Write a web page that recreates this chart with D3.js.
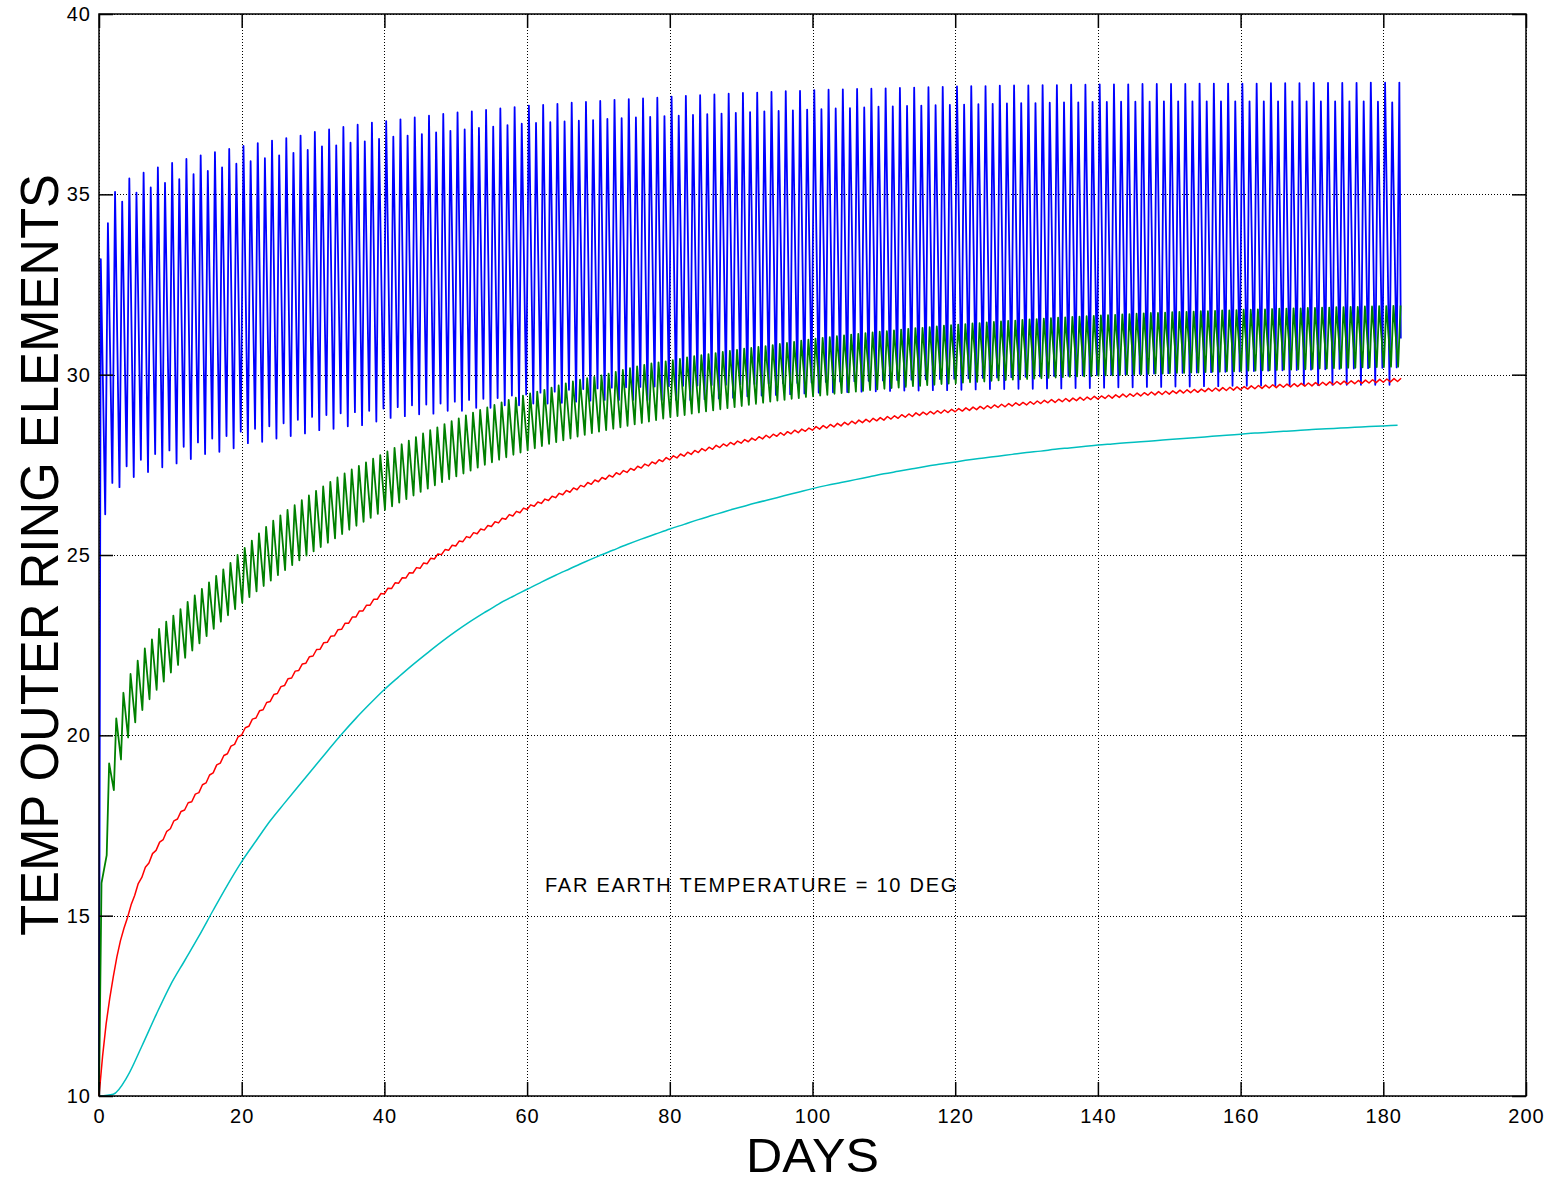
<!DOCTYPE html>
<html>
<head>
<meta charset="utf-8">
<title>Temp outer ring elements</title>
<style>
  body { margin: 0; background: #fff; }
  svg { display: block; background: #fff; font-family: "Liberation Sans", Arial, sans-serif; }
  .grid line { stroke: #000; stroke-width: 1; stroke-dasharray: 1,2; shape-rendering: crispEdges; }
  .grid path { display: none; }
  .axis path { display: none; }
  .axis line { stroke: #000; stroke-width: 1.5; }
  .axis text { font-size: 20px; letter-spacing: 1px; fill: #000; }
  .frame { fill: none; stroke: #000; stroke-width: 1.5; }
  .series { fill: none; stroke-linejoin: round; }
</style>
</head>
<body>
<div id="chart"></div>
<script src="https://d3js.org/d3.v7.min.js"></script>
<script>
// ticks
var xTicks = [0, 20, 40, 60, 80, 100, 120, 140, 160, 180, 200];
var yTicks = [10, 15, 20, 25, 30, 35, 40];

// blue: one spike per day, peak about day i+0.25, low about day i+0.87
var bluePeakAt = 0.25, blueLowAt = 0.87;
var bluePeak = [
  33.2, 34.2, 35.07, 34.8, 35.44, 35.05, 35.6, 35.19, 35.75, 35.32,
  35.87, 35.42, 35.98, 35.56, 36.08, 35.65, 36.17, 35.75, 36.26, 35.85,
  36.34, 35.92, 36.42, 36.0, 36.49, 36.08, 36.56, 36.15, 36.63, 36.23,
  36.73, 36.33, 36.8, 36.36, 36.87, 36.43, 36.93, 36.47, 36.99, 36.54,
  37.03, 36.6, 37.08, 36.63, 37.13, 36.67, 37.18, 36.72, 37.23, 36.76,
  37.27, 36.8, 37.3, 36.84, 37.34, 36.88, 37.38, 36.92, 37.42, 36.96,
  37.46, 36.98, 37.48, 37.0, 37.51, 37.02, 37.54, 37.04, 37.56, 37.06,
  37.59, 37.09, 37.62, 37.11, 37.64, 37.13, 37.66, 37.15, 37.68, 37.17,
  37.71, 37.18, 37.73, 37.2, 37.75, 37.22, 37.77, 37.24, 37.79, 37.26,
  37.81, 37.28, 37.82, 37.3, 37.84, 37.31, 37.86, 37.33, 37.87, 37.35,
  37.89, 37.36, 37.9, 37.38, 37.91, 37.39, 37.92, 37.41, 37.93, 37.43,
  37.94, 37.44, 37.95, 37.45, 37.96, 37.46, 37.97, 37.47, 37.98, 37.48,
  37.99, 37.49, 38.0, 37.5, 38.0, 37.51, 38.01, 37.52, 38.02, 37.53,
  38.02, 37.53, 38.03, 37.54, 38.03, 37.55, 38.04, 37.55, 38.04, 37.56,
  38.05, 37.56, 38.05, 37.57, 38.05, 37.57, 38.06, 37.57, 38.06, 37.58,
  38.06, 37.58, 38.06, 37.58, 38.07, 37.58, 38.07, 37.58, 38.07, 37.58,
  38.07, 37.58, 38.07, 37.58, 38.08, 37.58, 38.08, 37.58, 38.08, 37.58,
  38.09, 37.58, 38.09, 37.58, 38.09, 37.58, 38.09, 37.58, 38.1, 37.57,
  38.1, 37.55, 38.1
];
var blueLow = [
  26.13, 27.0, 26.88, 27.46, 27.16, 27.64, 27.3, 27.8, 27.43, 27.9,
  27.54, 28.0, 27.66, 28.12, 27.8, 28.23, 27.86, 28.3, 27.96, 28.42,
  28.1, 28.5, 28.14, 28.57, 28.23, 28.65, 28.3, 28.75, 28.37, 28.83,
  28.46, 28.88, 28.5, 28.93, 28.57, 28.96, 28.6, 29.0, 28.7, 29.06,
  28.8, 29.1, 28.85, 29.15, 28.9, 29.17, 28.92, 29.2, 29.0, 29.25,
  29.0, 29.3, 29.08, 29.33, 29.08, 29.35, 29.15, 29.42, 29.15, 29.45,
  29.2, 29.5, 29.2, 29.53, 29.22, 29.58, 29.25, 29.6, 29.28, 29.62,
  29.3, 29.64, 29.3, 29.65, 29.3, 29.66, 29.3, 29.67, 29.3, 29.68,
  29.3, 29.69, 29.3, 29.7, 29.32, 29.71, 29.34, 29.72, 29.36, 29.73,
  29.4, 29.74, 29.42, 29.75, 29.44, 29.76, 29.46, 29.77, 29.48, 29.78,
  29.5, 29.8, 29.51, 29.81, 29.52, 29.82, 29.53, 29.83, 29.54, 29.84,
  29.55, 29.85, 29.56, 29.86, 29.56, 29.87, 29.57, 29.88, 29.57, 29.89,
  29.58, 29.9, 29.59, 29.91, 29.6, 29.92, 29.6, 29.93, 29.61, 29.94,
  29.61, 29.95, 29.62, 29.96, 29.62, 29.97, 29.63, 29.98, 29.63, 29.99,
  29.64, 30.0, 29.65, 30.01, 29.65, 30.02, 29.66, 30.03, 29.66, 30.04,
  29.67, 30.05, 29.67, 30.06, 29.68, 30.07, 29.68, 30.08, 29.69, 30.09,
  29.69, 30.1, 29.7, 30.11, 29.7, 30.12, 29.71, 30.13, 29.71, 30.14,
  29.71, 30.15, 29.72, 30.16, 29.72, 30.17, 29.72, 30.18, 29.72, 30.19,
  29.72, 30.2
];
var blueStart = [0, 10];
var blueEnd = [182.45, 31.0];

// green: from day 1, low about day i+0.08, peak about day i+0.42
var greenLowAt = 0.08, greenPeakAt = 0.42;
var greenStart = [[0, 10], [0.35, 15.9]];
var greenLow = [
  16.68, 18.48, 19.33, 19.94, 20.36, 20.7, 21.0, 21.26, 21.49, 21.74,
  21.95, 22.15, 22.35, 22.55, 22.75, 22.95, 23.15, 23.33, 23.5, 23.67,
  23.83, 23.99, 24.14, 24.29, 24.44, 24.58, 24.72, 24.85, 24.98, 25.1,
  25.22, 25.34, 25.46, 25.58, 25.7, 25.81, 25.92, 26.03, 26.14, 26.25,
  26.35, 26.45, 26.55, 26.65, 26.75, 26.84, 26.93, 27.02, 27.1, 27.18,
  27.26, 27.34, 27.42, 27.5, 27.57, 27.64, 27.71, 27.78, 27.84, 27.9,
  27.96, 28.02, 28.08, 28.13, 28.18, 28.23, 28.28, 28.33, 28.38, 28.42,
  28.46, 28.5, 28.54, 28.58, 28.62, 28.66, 28.7, 28.74, 28.78, 28.82,
  28.85, 28.88, 28.92, 28.95, 28.98, 29.01, 29.04, 29.07, 29.1, 29.13,
  29.16, 29.19, 29.22, 29.25, 29.28, 29.3, 29.33, 29.35, 29.38, 29.4,
  29.42, 29.44, 29.47, 29.49, 29.51, 29.53, 29.55, 29.57, 29.59, 29.61,
  29.63, 29.64, 29.66, 29.68, 29.69, 29.71, 29.72, 29.74, 29.75, 29.76,
  29.78, 29.79, 29.8, 29.81, 29.83, 29.84, 29.85, 29.86, 29.87, 29.88,
  29.89, 29.9, 29.91, 29.92, 29.93, 29.94, 29.95, 29.95, 29.96, 29.97,
  29.98, 29.98, 29.99, 30.0, 30.01, 30.01, 30.02, 30.03, 30.03, 30.04,
  30.05, 30.05, 30.06, 30.06, 30.07, 30.08, 30.08, 30.09, 30.09, 30.1,
  30.11, 30.11, 30.12, 30.12, 30.13, 30.14, 30.14, 30.15, 30.15, 30.16,
  30.17, 30.17, 30.18, 30.18, 30.19, 30.19, 30.2, 30.2, 30.21, 30.21,
  30.22, 30.22
];
var greenPeak = [
  19.22, 20.47, 21.18, 21.7, 22.07, 22.41, 22.66, 22.95, 23.15, 23.32,
  23.5, 23.7, 23.88, 24.06, 24.24, 24.42, 24.6, 24.78, 25.0, 25.2,
  25.4, 25.6, 25.78, 25.95, 26.1, 26.25, 26.38, 26.52, 26.65, 26.78,
  26.9, 27.03, 27.15, 27.26, 27.37, 27.47, 27.57, 27.67, 27.77, 27.87,
  27.97, 28.07, 28.17, 28.27, 28.37, 28.46, 28.54, 28.63, 28.71, 28.79,
  28.87, 28.95, 29.02, 29.09, 29.16, 29.23, 29.3, 29.36, 29.42, 29.48,
  29.53, 29.58, 29.64, 29.7, 29.76, 29.81, 29.86, 29.9, 29.94, 29.98,
  30.03, 30.08, 30.13, 30.18, 30.23, 30.27, 30.31, 30.34, 30.37, 30.4,
  30.44, 30.48, 30.51, 30.54, 30.57, 30.6, 30.63, 30.66, 30.69, 30.72,
  30.74, 30.77, 30.79, 30.82, 30.85, 30.88, 30.91, 30.94, 30.97, 31.0,
  31.02, 31.04, 31.07, 31.09, 31.11, 31.13, 31.15, 31.17, 31.19, 31.21,
  31.23, 31.25, 31.27, 31.29, 31.3, 31.32, 31.34, 31.36, 31.37, 31.39,
  31.4, 31.42, 31.43, 31.45, 31.46, 31.48, 31.49, 31.5, 31.52, 31.53,
  31.54, 31.55, 31.57, 31.58, 31.59, 31.6, 31.61, 31.62, 31.63, 31.64,
  31.65, 31.66, 31.67, 31.68, 31.69, 31.7, 31.71, 31.71, 31.72, 31.73,
  31.74, 31.74, 31.75, 31.76, 31.76, 31.77, 31.78, 31.78, 31.79, 31.8,
  31.8, 31.81, 31.81, 31.82, 31.83, 31.83, 31.84, 31.84, 31.85, 31.85,
  31.86, 31.86, 31.87, 31.87, 31.88, 31.88, 31.89, 31.89, 31.9, 31.9,
  31.91, 31.92
];

// red: value at each whole day and at each half day (small daily ripple)
var redDay = [
  10.0, 12.0, 13.3, 14.3, 14.95, 15.56, 16.06, 16.46, 16.81, 17.11,
  17.41, 17.68, 17.93, 18.16, 18.41, 18.68, 18.96, 19.23, 19.49, 19.75,
  20.01, 20.25, 20.48, 20.71, 20.94, 21.16, 21.38, 21.59, 21.8, 22.0,
  22.2, 22.39, 22.58, 22.76, 22.94, 23.11, 23.28, 23.45, 23.61, 23.77,
  23.92, 24.07, 24.22, 24.36, 24.5, 24.63, 24.76, 24.89, 25.01, 25.13,
  25.25, 25.37, 25.48, 25.59, 25.69, 25.79, 25.89, 25.99, 26.08, 26.17,
  26.26, 26.35, 26.43, 26.51, 26.59, 26.67, 26.74, 26.81, 26.89, 26.96,
  27.03, 27.1, 27.16, 27.23, 27.29, 27.35, 27.41, 27.47, 27.53, 27.59,
  27.64, 27.69, 27.74, 27.79, 27.84, 27.89, 27.93, 27.98, 28.02, 28.06,
  28.1, 28.14, 28.18, 28.22, 28.25, 28.29, 28.32, 28.36, 28.39, 28.43,
  28.46, 28.49, 28.52, 28.55, 28.58, 28.61, 28.64, 28.67, 28.69, 28.72,
  28.74, 28.77, 28.79, 28.82, 28.84, 28.87, 28.89, 28.91, 28.93, 28.95,
  28.97, 28.99, 29.01, 29.03, 29.05, 29.07, 29.09, 29.11, 29.13, 29.15,
  29.16, 29.18, 29.2, 29.22, 29.23, 29.25, 29.26, 29.28, 29.29, 29.31,
  29.32, 29.34, 29.35, 29.37, 29.38, 29.4, 29.41, 29.43, 29.44, 29.45,
  29.46, 29.48, 29.49, 29.5, 29.51, 29.53, 29.54, 29.55, 29.56, 29.57,
  29.58, 29.6, 29.61, 29.62, 29.63, 29.64, 29.65, 29.66, 29.67, 29.68,
  29.69, 29.7, 29.71, 29.72, 29.73, 29.74, 29.75, 29.76, 29.77, 29.78,
  29.79, 29.8, 29.81
];
var redHalf = [
  11.1, 12.7, 13.85, 14.65, 15.3, 15.89, 16.34, 16.72, 17.04, 17.34,
  17.63, 17.89, 18.13, 18.37, 18.63, 18.9, 19.18, 19.44, 19.7, 19.96,
  20.21, 20.45, 20.68, 20.91, 21.13, 21.35, 21.57, 21.78, 21.98, 22.18,
  22.38, 22.57, 22.75, 22.93, 23.11, 23.28, 23.45, 23.61, 23.77, 23.93,
  24.08, 24.23, 24.37, 24.51, 24.65, 24.78, 24.91, 25.03, 25.15, 25.27,
  25.39, 25.51, 25.62, 25.72, 25.82, 25.92, 26.02, 26.12, 26.21, 26.3,
  26.39, 26.47, 26.55, 26.63, 26.71, 26.79, 26.86, 26.93, 27.01, 27.08,
  27.15, 27.21, 27.28, 27.34, 27.4, 27.46, 27.52, 27.58, 27.64, 27.7,
  27.75, 27.8, 27.85, 27.9, 27.95, 27.99, 28.04, 28.08, 28.12, 28.16,
  28.2, 28.24, 28.28, 28.32, 28.35, 28.39, 28.42, 28.46, 28.49, 28.52,
  28.56, 28.59, 28.62, 28.65, 28.68, 28.71, 28.74, 28.76, 28.79, 28.81,
  28.84, 28.86, 28.89, 28.91, 28.94, 28.96, 28.98, 29.0, 29.02, 29.04,
  29.06, 29.08, 29.1, 29.12, 29.14, 29.16, 29.18, 29.2, 29.22, 29.23,
  29.25, 29.27, 29.29, 29.31, 29.32, 29.34, 29.35, 29.37, 29.38, 29.4,
  29.41, 29.43, 29.44, 29.46, 29.47, 29.49, 29.5, 29.52, 29.53, 29.54,
  29.55, 29.57, 29.58, 29.59, 29.6, 29.62, 29.63, 29.64, 29.65, 29.66,
  29.67, 29.69, 29.7, 29.71, 29.72, 29.73, 29.74, 29.75, 29.76, 29.77,
  29.78, 29.79, 29.8, 29.81, 29.82, 29.83, 29.84, 29.85, 29.86, 29.87,
  29.88, 29.89, 29.9
];

// cyan: every second day from day 0 to day 182
var cyanStep = 2;
var cyanTemp = [
  10.0, 10.05, 10.55, 11.38, 12.25, 13.07, 13.75, 14.43, 15.15, 15.85,
  16.5, 17.07, 17.63, 18.12, 18.6, 19.08, 19.56, 20.03, 20.47, 20.88,
  21.27, 21.62, 21.96, 22.28, 22.59, 22.88, 23.15, 23.4, 23.64, 23.85,
  24.05, 24.25, 24.44, 24.62, 24.8, 24.97, 25.13, 25.29, 25.44, 25.58,
  25.72, 25.85, 25.98, 26.1, 26.22, 26.33, 26.44, 26.54, 26.64, 26.74,
  26.84, 26.93, 27.01, 27.09, 27.17, 27.25, 27.32, 27.39, 27.46, 27.52,
  27.58, 27.64, 27.69, 27.74, 27.79, 27.84, 27.88, 27.93, 27.97, 28.01,
  28.05, 28.08, 28.11, 28.14, 28.17, 28.2, 28.23, 28.26, 28.29, 28.32,
  28.35, 28.38, 28.4, 28.43, 28.45, 28.48, 28.5, 28.52, 28.54, 28.56,
  28.58, 28.6
];

var note = "FAR EARTH TEMPERATURE = 10 DEG";
var notePos = [62.5, 15.85];

// build point lists
var bluePts = [{day: blueStart[0], temp: blueStart[1]}];
bluePeak.forEach(function(v, i) {
  bluePts.push({day: i + bluePeakAt, temp: v});
  if (i < blueLow.length) bluePts.push({day: i + blueLowAt, temp: blueLow[i]});
});
bluePts.push({day: blueEnd[0], temp: blueEnd[1]});

var greenPts = greenStart.map(function(p) { return {day: p[0], temp: p[1]}; });
greenLow.forEach(function(v, i) {
  greenPts.push({day: i + 1 + greenLowAt, temp: v});
  greenPts.push({day: i + 1 + greenPeakAt, temp: greenPeak[i]});
});

var redPts = [];
redDay.forEach(function(v, i) {
  redPts.push({day: i, temp: v});
  redPts.push({day: i + 0.5, temp: redHalf[i]});
});

var cyanPts = cyanTemp.map(function(v, i) { return {day: i * cyanStep, temp: v}; });

var series = [
  {pts: bluePts, color: "#0000ff", w: 1.8, curve: d3.curveLinear},
  {pts: greenPts, color: "#008000", w: 1.8, curve: d3.curveLinear},
  {pts: redPts, color: "#ff0000", w: 1.5, curve: d3.curveLinear},
  {pts: cyanPts, color: "#00bfbf", w: 1.5, curve: d3.curveMonotoneX}
];

// layout
var margin = {top: 14, right: 31, bottom: 87, left: 99},
    width = 1557 - margin.left - margin.right,
    height = 1183 - margin.top - margin.bottom;

var svg = d3.select("#chart")
  .append("svg")
    .attr("width", 1557)
    .attr("height", 1183)
  .append("g")
    .attr("transform", "translate(" + margin.left + "," + margin.top + ")");

var x = d3.scaleLinear().domain([0, 200]).range([0, width]);
var y = d3.scaleLinear().domain([10, 40]).range([height, 0]);

// dotted grid
svg.append("g")
  .attr("class", "grid")
  .attr("transform", "translate(0," + height + ")")
  .call(d3.axisBottom(x).tickValues(xTicks).tickSize(-height).tickFormat(""));
svg.append("g")
  .attr("class", "grid")
  .call(d3.axisLeft(y).tickValues(yTicks).tickSize(-width).tickFormat(""));

// data lines
svg.selectAll(".series")
  .data(series)
  .enter()
  .append("path")
    .attr("class", "series")
    .attr("d", function(s) {
      return d3.line()
        .curve(s.curve)
        .x(function(d) { return x(d.day); })
        .y(function(d) { return y(d.temp); })(s.pts);
    })
    .attr("stroke", function(s) { return s.color; })
    .attr("stroke-width", function(s) { return s.w; });

// inward ticks on all four sides
svg.append("g")
  .attr("class", "axis")
  .attr("transform", "translate(0," + height + ")")
  .call(d3.axisBottom(x).tickValues(xTicks).tickSizeInner(-14).tickSizeOuter(0).tickPadding(13));
svg.append("g")
  .attr("class", "axis")
  .call(d3.axisTop(x).tickValues(xTicks).tickSizeInner(-14).tickSizeOuter(0).tickFormat(""));
svg.append("g")
  .attr("class", "axis")
  .call(d3.axisLeft(y).tickValues(yTicks).tickSizeInner(-14).tickSizeOuter(0).tickPadding(8));
svg.append("g")
  .attr("class", "axis")
  .attr("transform", "translate(" + width + ",0)")
  .call(d3.axisRight(y).tickValues(yTicks).tickSizeInner(-14).tickSizeOuter(0).tickFormat(""));

svg.append("rect")
  .attr("class", "frame")
  .attr("width", width)
  .attr("height", height);

// labels
svg.append("text")
  .attr("x", x(100))
  .attr("y", height + 76)
  .attr("text-anchor", "middle")
  .attr("textLength", 133)
  .attr("lengthAdjust", "spacingAndGlyphs")
  .style("font-size", "48px")
  .text("DAYS");

svg.append("text")
  .attr("transform", "translate(-41," + (height / 2) + ") rotate(-90)")
  .attr("text-anchor", "middle")
  .attr("textLength", 762)
  .attr("lengthAdjust", "spacingAndGlyphs")
  .style("font-size", "53px")
  .text("TEMP OUTER RING ELEMENTS");

svg.append("text")
  .attr("x", x(notePos[0]))
  .attr("y", y(notePos[1]))
  .attr("dy", "0.35em")
  .style("font-size", "20px")
  .style("letter-spacing", "1.75px")
  .text(note);
</script>
</body>
</html>
